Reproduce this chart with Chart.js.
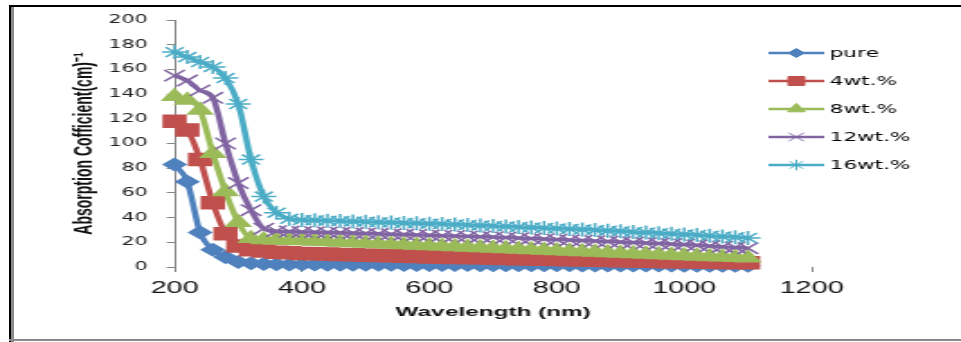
<!DOCTYPE html>
<html>
<head>
<meta charset="utf-8">
<script src="https://cdn.jsdelivr.net/npm/chart.js@4/dist/chart.umd.min.js"></script>
<style>
  body { margin: 0; background: #fff; }
  #page { position: relative; width: 961px; height: 342px; overflow: hidden; }
  /* chart is laid out narrow and widened, like a stretched worksheet chart */
  #stretch { position: absolute; left: 0; top: 0; width: 534px; height: 342px; transform: scaleX(1.7996); transform-origin: 0 0; }
  .edge { position: absolute; }
</style>
</head>
<body>
<div id="page">
  <div id="stretch"><canvas id="absorb" width="534" height="342"></canvas></div>
  <div class="edge" style="left:9px;top:5px;width:952px;height:2px;background:#000"></div>
  <div class="edge" style="left:9px;top:5px;width:2px;height:337px;background:#000"></div>
  <div class="edge" style="left:11px;top:7px;width:3px;height:335px;background:#8a8a8a"></div>
  <div class="edge" style="left:9px;top:339px;width:952px;height:2px;background:#8a8a8a"></div>
</div>
<script>
// wavelength (nm)
const wavelength = [200,220,240,260,280,300,320,340,360,380,
                    400,420,440,460,480,500,520,540,560,580,
                    600,620,640,660,680,700,720,740,760,780,
                    800,820,840,860,880,900,920,940,960,980,
                    1000,1020,1040,1060,1080,1100];

// absorption coefficient (cm)^-1
const pure = [83,69,28,14,8,4,3,2.5,2.2,2,
              2,2,1.9,1.9,1.9,1.8,1.8,1.8,1.7,1.7,
              1.7,1.6,1.6,1.6,1.5,1.5,1.5,1.5,1.4,1.4,
              1.4,1.4,1.3,1.3,1.3,1.3,1.2,1.2,1.2,1.2,
              1.1,1.1,1.1,1.0,1.0,1.0];
const wt4 = [118,111,87,52,27,17,14,13,12,11.5,
             11,10.8,10.5,10.2,10,9.6,9.4,9.1,8.8,8.5,
             8.2,8,7.8,7.6,7.4,7.1,6.9,6.7,6.5,6.3,
             6.1,5.9,5.7,5.5,5.3,5.1,4.9,4.7,4.5,4.3,
             4.2,4,3.9,3.7,3.6,3.5];
const wt8 = [138,135,127,92,61,36,23,22,21.8,21.5,
             21.2,20.8,20.4,20,19.6,19.2,18.8,18.4,18,17.6,
             17.2,16.8,16.4,16,15.6,15.2,14.8,14.4,14,13.6,
             13.2,12.8,12.4,12,11.6,11.2,10.8,10.4,10,9.6,
             9.2,8.8,8.4,8,7.6,7.2];
const wt12 = [155,151,143,137,100,68,46,31,29,28.7,
              28.4,28.2,28,27.8,27.5,27.2,26.9,26.6,26.3,26,
              25.7,25.4,25.1,24.8,24.5,24.2,23.8,23.4,23,22.6,
              22.2,21.8,21.4,21,20.6,20.2,19.8,19.4,19,18.6,
              18.2,17.6,17,16.4,15.8,15.2];
const wt16 = [174,170,166,162,153,132,87,57,44,39,
              38,37.8,37.5,37.2,36.9,36.6,36.3,36,35.7,35.4,
              35.1,34.8,34.4,34,33.6,33.2,32.8,32.4,32,31.6,
              31.2,30.8,30.4,29.9,29.4,28.9,28.4,27.9,27.4,26.9,
              26.4,25.9,25.3,24.7,24.1,23.5];

const seriesNames = ['pure', '4wt.%', '8wt.%', '12wt.%', '16wt.%'];
const xTickValues = [200, 400, 600, 800, 1000, 1200];
const yTickValues = [0, 20, 40, 60, 80, 100, 120, 140, 160, 180, 200];

function toPoints(vals) {
    return wavelength.map((w, i) => ({x: w, y: vals[i]}));
}

function serie(label, vals, color, style, radius, order) {
    return {
        label: label,
        data: toPoints(vals),
        borderColor: color,
        backgroundColor: color,
        borderWidth: 3.5,
        pointStyle: style,
        pointRadius: radius,
        pointBackgroundColor: color,
        pointBorderColor: color,
        pointBorderWidth: 1.5,
        cubicInterpolationMode: 'monotone',
        clip: false,
        order: order
    };
}

// legend drawn at the right, line + marker + name
const sideLegend = {
    id: 'sideLegend',
    afterDraw(chart) {
        const ctx = chart.ctx;
        ctx.save();
        chart.data.datasets.forEach((ds, i) => {
            const y = 53 + i * 28;
            ctx.strokeStyle = ds.borderColor;
            ctx.lineWidth = 2.5;
            ctx.beginPath();
            ctx.moveTo(427, y);
            ctx.lineTo(458, y);
            ctx.stroke();
            ctx.fillStyle = ds.pointBackgroundColor;
            ctx.strokeStyle = ds.pointBorderColor;
            ctx.lineWidth = 1;
            Chart.helpers.drawPoint(ctx, {
                pointStyle: ds.pointStyle,
                radius: ds.pointRadius * 0.75,
                borderWidth: 1,
                rotation: 0
            }, 442.5, y);
            ctx.fillStyle = '#000';
            ctx.font = '12px "DejaVu Sans"';
            ctx.textBaseline = 'middle';
            ctx.textAlign = 'left';
            ctx.fillText(ds.label, 461, y + 1);
        });
        ctx.restore();
    }
};

const ctx = document.getElementById('absorb').getContext('2d');
const absorbChart = new Chart(ctx, {
    type: 'line',
    data: {
        datasets: [
            serie(seriesNames[0], pure, '#4F81BD', 'rectRot', 6, 5),
            serie(seriesNames[1], wt4, '#C0504D', 'rect', 8.5, 4),
            serie(seriesNames[2], wt8, '#9BBB59', 'triangle', 7.5, 3),
            serie(seriesNames[3], wt12, '#8064A2', 'crossRot', 8, 2),
            serie(seriesNames[4], wt16, '#4BACC6', 'star', 7, 1)
        ]
    },
    options: {
        responsive: false,
        animation: false,
        devicePixelRatio: 1,
        layout: { padding: { left: 0, top: 20, right: 83, bottom: 0 } },
        plugins: {
            legend: { display: false },
            tooltip: { enabled: false }
        },
        scales: {
            x: {
                type: 'linear',
                min: 200,
                max: 1200,
                afterBuildTicks: (axis) => { axis.ticks = xTickValues.map(v => ({value: v})); },
                afterFit: (axis) => { axis.height = 75; },
                grid: { display: true, drawOnChartArea: false, drawTicks: true, tickLength: 5, color: '#888' },
                border: { display: false },
                ticks: {
                    padding: 7,
                    color: '#111',
                    callback: (v) => String(v),
                    font: { family: '"Liberation Sans Narrow", "Liberation Sans", sans-serif', size: 16 }
                },
                title: {
                    display: true,
                    text: 'Wavelength (nm)',
                    color: '#111',
                    font: { family: '"Liberation Sans Narrow", "Liberation Sans", sans-serif', size: 13.5, weight: 'bold' },
                    padding: { top: 0, bottom: 22 }
                }
            },
            y: {
                min: 0,
                max: 200,
                afterBuildTicks: (axis) => { axis.ticks = yTickValues.map(v => ({value: v})); },
                afterFit: (axis) => { axis.width = 97; },
                grid: { display: true, drawOnChartArea: false, drawTicks: true, tickLength: 4.4, color: '#888' },
                border: { display: true, color: '#888', width: 1 },
                ticks: {
                    padding: 10.5,
                    color: '#222',
                    callback: (v) => String(v),
                    font: { family: '"DejaVu Sans", sans-serif', size: 11.5 }
                },
                title: {
                    display: true,
                    text: 'Absorption Cofficient(cm)\u207B\u00B9',
                    color: '#111',
                    font: { family: '"Liberation Sans", Arial, sans-serif', size: 14, weight: 'bold' },
                    padding: { top: 39, bottom: 0 }
                }
            }
        }
    },
    plugins: [sideLegend]
});
</script>
</body>
</html>
